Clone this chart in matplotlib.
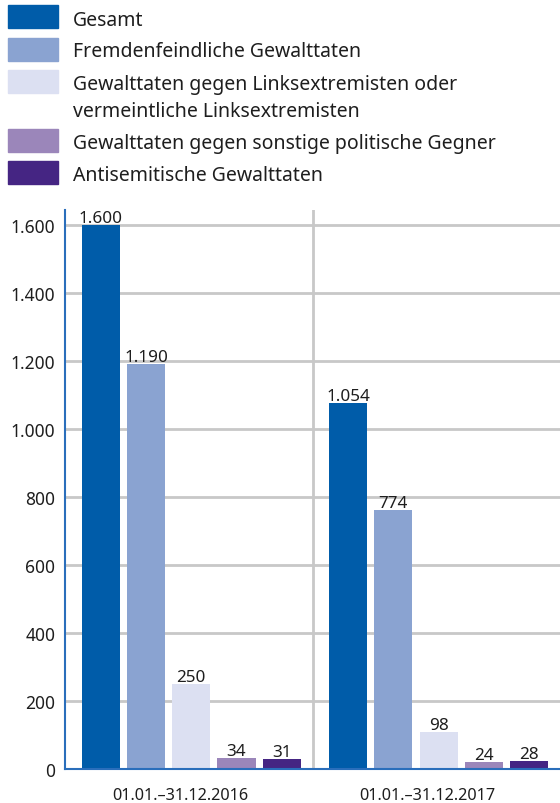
import matplotlib
matplotlib.use("Agg")
import matplotlib.pyplot as plt
from matplotlib.patches import Rectangle
import numpy as np

plt.rcParams['font.family'] = ['Noto Sans', 'DejaVu Sans']

periods = ['01.01.–31.12.2016', '01.01.–31.12.2017']
series = ['Gesamt',
          'Fremdenfeindliche Gewalttaten',
          'Gewalttaten gegen Linksextremisten oder\nvermeintliche Linksextremisten',
          'Gewalttaten gegen sonstige politische Gegner',
          'Antisemitische Gewalttaten']
colors = ['#005ca9', '#8aa3d1', '#dce0f2', '#9b86ba', '#452583']

# printed values per series (2016, 2017)
labels = [[1600, 1054], [1190, 774], [250, 98], [34, 24], [31, 28]]
# bar heights as drawn in the picture
heights = [[1600, 1076], [1191, 762], [250, 110], [32, 21], [29, 24]]

yticks = [0, 200, 400, 600, 800, 1000, 1200, 1400, 1600]

def de(n):
    return f'{n:,}'.replace(',', '.')

W, H = 560, 804
fig = plt.figure(figsize=(W / 100, H / 100), dpi=100)
ax = fig.add_axes([65 / W, 34 / H, 495 / W, (770 - 211) / H])

grid = '#c8c8c8'
txt = '#1e1e1e'
spine = '#2a6ebb'

x = np.arange(len(periods))
step = 0.183
width = 0.154
for j, name in enumerate(series):
    pos = x + 0.51 + (j - 2) * step
    ax.bar(pos, heights[j], width=width, color=colors[j], zorder=3)
    for p, h, v in zip(pos, heights[j], labels[j]):
        ax.text(p, h + 8, de(v), ha='center', va='baseline', fontsize=12.3,
                color=txt, zorder=4)

ax.set_xlim(0, 2)
ax.set_ylim(0, 1644)
ax.set_yticks(yticks)
ax.set_yticklabels([de(v) for v in yticks])
ax.set_xticks(x + 0.465)
ax.set_xticklabels(periods)
ax.tick_params(length=0, colors=txt)
ax.tick_params(axis='y', pad=7, labelsize=12.5)
ax.tick_params(axis='x', pad=13, labelsize=11.7)

ax.yaxis.grid(True, color=grid, linewidth=2, zorder=0)
ax.axvline(1.0, color=grid, linewidth=2, zorder=0)
for s in ['top', 'right']:
    ax.spines[s].set_visible(False)
for s in ['left', 'bottom']:
    ax.spines[s].set_color(spine)
    ax.spines[s].set_linewidth(1.5)
    ax.spines[s].set_zorder(5)

# legend drawn in pixel coordinates: (patch top, first baseline)
rows = [(6, 26), (39, 57.3), (71, 90), (130, 149), (162, 180.7)]
for (top, base), name, c in zip(rows, series, colors):
    fig.patches.append(Rectangle((8 / W, 1 - (top + 23) / H), 50 / W, 23 / H,
                                 transform=fig.transFigure, color=c))
    for k, line in enumerate(name.split('\n')):
        fig.text(73 / W, 1 - (base + k * 26.7) / H, line, ha='left', va='baseline',
                 fontsize=14, color=txt)

fig.savefig('out.png', dpi=100)
